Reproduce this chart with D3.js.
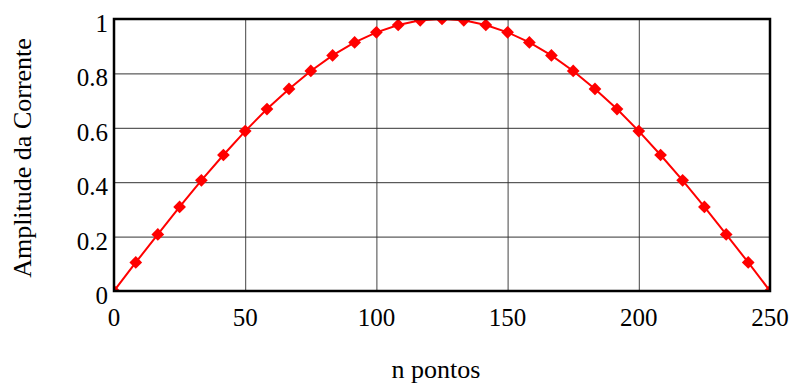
<!DOCTYPE html>
<html>
<head>
<meta charset="utf-8">
<script src="https://cdn.jsdelivr.net/npm/d3@7"></script>
<style>
  body { margin: 0; background: #fff; }
</style>
</head>
<body>
<svg id="chart" width="794" height="385"></svg>
<script>
// n pontos (x) and corrente amplitude (y)
const nPontos = [0, 8.3, 16.7, 25, 33.3, 41.7, 50, 58.3, 66.7, 75, 83.3, 91.7, 100, 108.3, 116.7,
  125, 133.3, 141.7, 150, 158.3, 166.7, 175, 183.3, 191.7, 200, 208.3, 216.7, 225, 233.3, 241.7, 250];
const amplitude = [0, 0.105, 0.208, 0.309, 0.407, 0.5, 0.588, 0.669, 0.743, 0.809, 0.866, 0.914, 0.951, 0.978, 0.995,
  1, 0.995, 0.978, 0.951, 0.914, 0.866, 0.809, 0.743, 0.669, 0.588, 0.5, 0.407, 0.309, 0.208, 0.105, 0];
const xTicks = [0, 50, 100, 150, 200, 250];
const yTicks = [0, 0.2, 0.4, 0.6, 0.8, 1];
const yTickLabels = ['0', '0.2', '0.4', '0.6', '0.8', '1'];

const data = nPontos.map((n, i) => ({n: n, a: amplitude[i]}));

const pLeft = 114, pRight = 770, pTop = 19, pBottom = 291;

const x = d3.scaleLinear().domain([0, 250]).range([pLeft, pRight]);
const y = d3.scaleLinear().domain([0, 1]).range([pBottom, pTop]);

const svg = d3.select('#chart');

svg.append('clipPath')
  .attr('id', 'plotclip')
  .append('rect')
  .attr('x', pLeft).attr('y', pTop)
  .attr('width', pRight - pLeft).attr('height', pBottom - pTop);

// grid
svg.append('g')
  .attr('transform', `translate(0,${pBottom})`)
  .call(d3.axisBottom(x).tickValues(xTicks).tickSize(-(pBottom - pTop)).tickFormat(''))
  .call(g => g.select('.domain').remove())
  .selectAll('line')
  .attr('stroke', '#444')
  .attr('stroke-width', 1);

svg.append('g')
  .attr('transform', `translate(${pLeft},0)`)
  .call(d3.axisLeft(y).tickValues(yTicks).tickSize(-(pRight - pLeft)).tickFormat(''))
  .call(g => g.select('.domain').remove())
  .selectAll('line')
  .attr('stroke', '#333')
  .attr('stroke-width', 1);

// tick labels
svg.append('g')
  .selectAll('text')
  .data(xTicks)
  .enter()
  .append('text')
  .attr('x', d => x(d))
  .attr('y', pBottom + 35)
  .attr('text-anchor', 'middle')
  .style('font-family', 'Liberation Serif')
  .style('font-size', '25px')
  .text(d => d);

svg.append('g')
  .selectAll('text')
  .data(yTicks)
  .enter()
  .append('text')
  .attr('x', pLeft - 6)
  .attr('y', d => y(d) + 13)
  .attr('text-anchor', 'end')
  .style('font-family', 'Liberation Serif')
  .style('font-size', '25px')
  .text((d, i) => yTickLabels[i]);

// curve
const plot = svg.append('g').attr('clip-path', 'url(#plotclip)');

plot.append('path')
  .datum(data)
  .attr('fill', 'none')
  .attr('stroke', '#ff0000')
  .attr('stroke-width', 2)
  .attr('d', d3.line().x(d => x(d.n)).y(d => y(d.a)));

plot.selectAll('path.marker')
  .data(data)
  .enter()
  .append('path')
  .attr('class', 'marker')
  .attr('transform', d => `translate(${x(d.n)},${y(d.a)}) rotate(45)`)
  .attr('d', 'M-4.5,-4.5H4.5V4.5H-4.5Z')
  .attr('fill', '#ff0000');

// frame
svg.append('rect')
  .attr('x', pLeft).attr('y', pTop)
  .attr('width', pRight - pLeft).attr('height', pBottom - pTop)
  .attr('fill', 'none')
  .attr('stroke', '#000')
  .attr('stroke-width', 2.5);

// titles
svg.append('text')
  .attr('x', 436)
  .attr('y', 378)
  .attr('text-anchor', 'middle')
  .style('font-family', 'Liberation Serif')
  .style('font-size', '26px')
  .text('n pontos');

svg.append('text')
  .attr('transform', 'translate(31,158) rotate(-90)')
  .attr('text-anchor', 'middle')
  .style('font-family', 'Liberation Serif')
  .style('font-size', '26px')
  .text('Amplitude da Corrente');
</script>
</body>
</html>
